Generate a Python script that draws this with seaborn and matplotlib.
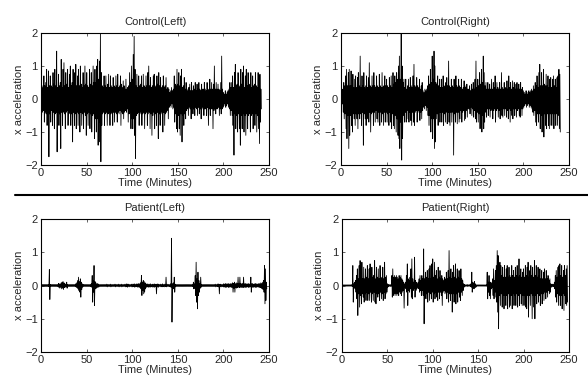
import numpy as np
import matplotlib
matplotlib.use("Agg")
import matplotlib.pyplot as plt
from matplotlib.lines import Line2D
import seaborn as sns

# per-minute peak (hi) and trough (lo) of x acceleration
control_left_hi = [
    1.8, 0.4, 0.35, 0.7, 0.4, 0.5, 0.9, 0.35, 0.85, 0.4,
    0.7, 0.4, 0.35, 0.8, 0.45, 0.9, 0.4, 1.45, 0.35, 0.75,
    0.4, 0.5, 1.2, 0.35, 0.9, 1.1, 0.4, 0.8, 0.45, 0.9,
    0.35, 0.75, 1.0, 0.4, 0.5, 0.9, 0.35, 0.8, 1.05, 0.4,
    0.7, 0.9, 0.4, 1.0, 0.45, 0.35, 0.8, 0.4, 1.0, 0.45,
    0.8, 0.4, 0.35, 0.9, 0.45, 0.8, 0.4, 1.0, 0.5, 0.9,
    0.5, 1.0, 1.2, 0.6, 1.15, 2.0, 0.8, 0.4, 0.35, 0.7,
    0.4, 0.7, 0.35, 0.45, 0.75, 0.35, 0.7, 0.4, 0.35, 0.65,
    0.4, 0.35, 0.7, 0.4, 0.75, 0.35, 0.4, 0.7, 0.45, 0.35,
    0.55, 0.4, 0.3, 0.6, 0.3, 0.35, 0.4, 0.8, 0.5, 1.0,
    0.6, 1.35, 1.9, 0.9, 0.4, 0.75, 0.35, 0.7, 0.4, 0.45,
    0.7, 0.35, 0.75, 0.4, 0.35, 0.7, 0.4, 0.8, 1.0, 0.4,
    0.65, 0.35, 0.4, 0.7, 0.75, 0.35, 0.4, 0.7, 0.45, 0.8,
    0.4, 0.65, 0.35, 0.4, 0.7, 0.35, 0.4, 0.65, 0.3, 0.35,
    0.3, 0.2, 0.25, 0.35, 0.25, 0.3, 0.7, 0.45, 0.4, 0.9,
    0.45, 0.8, 0.4, 0.7, 0.9, 0.35, 0.4, 0.65, 0.3, 0.5,
    0.3, 0.25, 0.35, 0.45, 0.25, 0.5, 0.25, 0.4, 0.3, 0.5,
    0.25, 0.45, 0.3, 0.5, 0.3, 0.25, 0.45, 0.3, 0.3, 0.5,
    0.3, 0.25, 0.5, 0.3, 0.25, 0.6, 0.3, 0.5, 0.3, 0.45,
    1.0, 0.3, 0.5, 0.3, 0.45, 0.3, 0.25, 0.5, 1.3, 0.3,
    0.2, 0.15, 0.25, 0.15, 0.2, 0.25, 0.3, 0.5, 0.35, 0.5,
    0.7, 0.35, 0.8, 1.05, 0.4, 0.45, 0.8, 0.4, 0.35, 0.9,
    0.45, 0.8, 1.0, 0.35, 0.7, 0.9, 0.4, 0.8, 0.4, 0.45,
    0.8, 0.35, 0.7, 0.4, 0.45, 0.8, 0.4, 0.35, 0.8, 0.7,
    0.75, 0.3,
]
control_left_lo = [
    -0.5, -0.4, -0.35, -0.7, -0.4, -0.45, -0.8, -0.4, -1.75, -0.45,
    -0.7, -0.35, -0.8, -0.4, -0.9, -0.45, -0.4, -1.6, -0.4, -0.8,
    -0.45, -1.5, -0.4, -0.8, -0.4, -0.45, -0.9, -0.4, -0.35, -0.8,
    -0.45, -0.4, -0.8, -0.45, -1.3, -0.4, -0.8, -0.45, -0.9, -0.4,
    -0.8, -0.45, -1.0, -0.4, -0.8, -0.45, -0.9, -0.4, -0.5, -1.1,
    -0.45, -0.8, -0.4, -0.9, -0.45, -1.0, -0.5, -0.45, -1.2, -0.6,
    -1.0, -0.6, -1.4, -0.7, -1.3, -1.9, -0.8, -0.45, -0.4, -0.8,
    -0.45, -0.4, -0.8, -0.45, -0.4, -0.8, -0.45, -0.4, -0.8, -0.4,
    -0.7, -0.4, -0.45, -0.7, -0.4, -0.45, -0.35, -0.8, -0.4, -0.45,
    -0.6, -0.4, -0.35, -0.4, -0.3, -0.7, -0.45, -0.4, -0.9, -0.6,
    -0.9, -0.6, -1.1, -1.8, -0.5, -0.45, -0.4, -0.8, -0.45, -0.4,
    -0.8, -0.45, -0.4, -0.9, -0.45, -0.4, -0.8, -0.45, -0.4, -0.9,
    -0.45, -1.1, -0.5, -0.4, -0.9, -0.45, -0.8, -0.4, -1.2, -0.45,
    -0.8, -0.4, -0.45, -1.0, -0.4, -0.8, -0.45, -0.4, -0.35, -0.6,
    -0.25, -0.2, -0.25, -0.15, -0.3, -0.25, -0.7, -0.45, -0.9, -1.0,
    -0.5, -0.9, -1.1, -0.45, -1.3, -0.5, -0.8, -0.45, -0.6, -0.35,
    -0.3, -0.5, -0.25, -0.3, -0.6, -0.25, -0.45, -0.3, -0.5, -0.25,
    -0.3, -0.5, -0.25, -0.45, -0.3, -0.6, -0.25, -0.3, -0.5, -0.3,
    -0.3, -0.5, -0.25, -0.8, -0.3, -0.5, -0.3, -0.3, -0.9, -0.35,
    -0.3, -0.45, -0.3, -0.3, -0.25, -0.5, -0.3, -0.45, -0.3, -0.25,
    -0.2, -0.15, -0.25, -0.2, -0.15, -0.25, -0.3, -0.5, -0.35, -0.5,
    -0.8, -1.7, -0.45, -0.9, -0.5, -1.0, -0.45, -0.9, -1.4, -0.5,
    -0.9, -0.45, -1.0, -0.5, -1.1, -0.45, -0.9, -0.5, -0.45, -1.0,
    -0.5, -0.45, -0.9, -0.4, -0.8, -0.45, -1.0, -0.5, -0.9, -1.35,
    -0.7, -0.3,
]

control_right_hi = [
    0.2, 0.15, 0.3, 0.5, 0.4, 0.7, 0.9, 0.4, 0.8, 0.9,
    0.4, 0.85, 0.4, 0.75, 0.35, 0.6, 0.7, 0.35, 0.65, 0.8,
    0.4, 1.3, 0.35, 0.7, 0.4, 0.8, 0.35, 0.4, 0.7, 0.35,
    0.65, 1.1, 0.4, 0.35, 0.7, 0.4, 0.8, 0.4, 0.35, 0.7,
    0.4, 0.35, 0.75, 0.4, 0.35, 0.8, 0.35, 0.4, 0.7, 0.4,
    0.6, 0.4, 0.35, 0.65, 0.4, 0.7, 0.35, 0.8, 0.45, 0.7,
    0.5, 0.8, 0.6, 1.0, 1.3, 0.6, 2.0, 1.0, 0.5, 0.6,
    0.35, 0.6, 0.3, 0.4, 0.6, 0.35, 0.65, 0.4, 0.35, 0.7,
    1.05, 0.4, 0.35, 0.65, 0.4, 0.35, 0.6, 0.3, 0.4, 0.5,
    0.25, 0.2, 0.3, 0.25, 0.3, 0.4, 0.7, 0.45, 0.9, 0.5,
    1.3, 0.6, 1.45, 1.0, 0.5, 0.45, 0.7, 0.4, 0.6, 0.35,
    0.6, 0.35, 0.7, 0.4, 0.35, 0.5, 0.65, 0.4, 1.15, 0.4,
    0.35, 0.6, 0.4, 0.35, 0.6, 0.35, 0.7, 0.4, 0.35, 0.6,
    0.4, 0.35, 0.6, 0.3, 0.35, 0.55, 0.4, 0.35, 0.45, 0.3,
    0.3, 0.4, 0.25, 0.45, 0.3, 0.5, 0.3, 0.6, 1.15, 0.35,
    0.6, 0.4, 0.8, 0.45, 0.9, 0.5, 1.3, 0.8, 0.4, 0.5,
    0.3, 0.5, 0.3, 0.45, 0.3, 0.6, 0.3, 0.5, 0.35, 0.7,
    0.3, 0.5, 0.35, 0.3, 0.5, 0.3, 0.8, 0.35, 0.3, 0.5,
    0.35, 0.3, 0.55, 0.3, 0.7, 0.35, 0.5, 0.3, 0.55, 0.35,
    0.5, 0.3, 0.45, 0.5, 0.3, 0.45, 0.3, 0.5, 0.3, 0.35,
    0.25, 0.2, 0.15, 0.25, 0.2, 0.15, 0.25, 0.2, 0.25, 0.3,
    0.25, 0.4, 0.3, 0.5, 0.4, 0.7, 0.35, 0.8, 1.05, 0.4,
    0.8, 0.4, 0.9, 0.45, 0.4, 0.75, 0.4, 0.7, 0.35, 0.6,
    0.65, 0.35, 0.6, 0.7, 0.4, 0.6, 0.35, 0.65, 0.7, 0.9,
    0.75,
]
control_right_lo = [
    -0.2, -0.15, -0.4, -0.6, -0.45, -0.9, -1.2, -0.5, -1.5, -1.1,
    -0.5, -0.8, -1.0, -0.45, -0.6, -0.8, -0.45, -0.6, -0.9, -0.45,
    -0.6, -0.45, -0.8, -0.4, -1.4, -0.45, -0.6, -0.8, -0.4, -0.6,
    -0.7, -0.4, -1.0, -0.45, -0.4, -0.8, -0.4, -0.7, -0.35, -0.6,
    -0.7, -0.4, -0.8, -0.4, -0.7, -0.45, -0.8, -0.4, -0.7, -0.4,
    -0.7, -0.45, -0.8, -0.4, -0.7, -0.9, -0.45, -0.8, -0.9, -0.5,
    -1.0, -0.6, -1.1, -1.2, -1.5, -0.7, -1.85, -1.2, -0.5, -0.7,
    -0.4, -0.7, -0.35, -0.6, -0.7, -0.4, -0.65, -0.8, -0.4, -0.7,
    -0.8, -0.4, -0.35, -0.7, -0.4, -0.35, -0.65, -0.4, -0.6, -0.35,
    -0.25, -0.3, -0.2, -0.35, -0.25, -0.5, -0.8, -0.5, -1.0, -0.6,
    -1.2, -0.6, -1.5, -1.3, -0.6, -0.45, -0.8, -0.4, -0.7, -0.4,
    -0.7, -0.4, -0.8, -0.45, -0.7, -0.4, -0.75, -0.4, -0.7, -0.8,
    -0.4, -0.7, -0.4, -1.7, -0.45, -0.7, -0.4, -0.75, -0.4, -0.7,
    -0.6, -0.35, -0.7, -0.4, -0.35, -0.65, -0.6, -0.35, -0.55, -0.3,
    -0.3, -0.45, -0.25, -0.5, -0.3, -0.55, -0.35, -0.6, -0.7, -0.4,
    -0.7, -0.45, -0.9, -0.5, -1.0, -0.5, -0.9, -0.7, -0.4, -0.55,
    -0.3, -0.5, -0.3, -0.55, -0.35, -0.3, -0.6, -0.35, -0.3, -0.7,
    -0.35, -0.3, -0.55, -0.35, -0.6, -0.3, -0.5, -0.55, -0.3, -0.5,
    -0.3, -0.55, -0.35, -0.6, -0.3, -0.7, -0.35, -0.5, -0.6, -0.3,
    -0.5, -0.3, -0.55, -0.35, -0.3, -0.5, -0.55, -0.3, -0.5, -0.3,
    -0.25, -0.2, -0.15, -0.25, -0.2, -0.15, -0.25, -0.2, -0.25, -0.3,
    -0.4, -0.5, -0.35, -0.7, -0.8, -0.45, -0.7, -0.45, -0.9, -0.5,
    -1.0, -0.5, -1.15, -0.45, -0.8, -0.9, -0.45, -0.8, -0.9, -0.45,
    -0.8, -0.45, -0.8, -0.9, -0.45, -0.8, -0.45, -0.8, -0.5, -0.9,
    -1.0,
]

patient_left_hi = [
    0.03, 0.03, 0.03, 0.03, 0.03, 0.03, 0.03, 0.03, 0.03, 0.48,
    0.03, 0.03, 0.03, 0.03, 0.03, 0.03, 0.03, 0.03, 0.03, 0.06,
    0.05, 0.04, 0.08, 0.1, 0.12, 0.08, 0.05, 0.04, 0.1, 0.03,
    0.03, 0.03, 0.03, 0.03, 0.03, 0.03, 0.03, 0.03, 0.05, 0.08,
    0.15, 0.25, 0.12, 0.2, 0.1, 0.05, 0.03, 0.03, 0.03, 0.03,
    0.03, 0.03, 0.03, 0.03, 0.03, 0.05, 0.3, 0.15, 0.6, 0.12,
    0.08, 0.05, 0.06, 0.04, 0.03, 0.03, 0.03, 0.03, 0.03, 0.03,
    0.03, 0.03, 0.04, 0.03, 0.03, 0.03, 0.04, 0.03, 0.03, 0.03,
    0.03, 0.04, 0.03, 0.03, 0.03, 0.04, 0.03, 0.03, 0.04, 0.03,
    0.03, 0.03, 0.04, 0.03, 0.05, 0.03, 0.04, 0.03, 0.03, 0.04,
    0.04, 0.03, 0.05, 0.04, 0.03, 0.05, 0.04, 0.06, 0.05, 0.08,
    0.3, 0.1, 0.15, 0.12, 0.08, 0.05, 0.03, 0.05, 0.03, 0.04,
    0.05, 0.03, 0.04, 0.03, 0.05, 0.03, 0.04, 0.03, 0.05, 0.03,
    0.03, 0.04, 0.03, 0.05, 0.03, 0.04, 0.03, 0.25, 0.03, 0.04,
    0.03, 0.03, 0.05, 1.42, 0.05, 0.08, 0.25, 0.04, 0.03, 0.03,
    0.03, 0.03, 0.03, 0.03, 0.03, 0.03, 0.03, 0.03, 0.03, 0.03,
    0.03, 0.03, 0.03, 0.03, 0.03, 0.03, 0.03, 0.1, 0.05, 0.3,
    0.7, 0.2, 0.4, 0.15, 0.05, 0.25, 0.03, 0.03, 0.03, 0.03,
    0.03, 0.03, 0.03, 0.03, 0.03, 0.03, 0.03, 0.03, 0.03, 0.03,
    0.03, 0.04, 0.03, 0.03, 0.05, 0.04, 0.03, 0.04, 0.03, 0.03,
    0.05, 0.04, 0.06, 0.05, 0.04, 0.06, 0.05, 0.04, 0.06, 0.05,
    0.08, 0.06, 0.1, 0.05, 0.08, 0.06, 0.25, 0.05, 0.25, 0.06,
    0.05, 0.06, 0.25, 0.05, 0.06, 0.05, 0.04, 0.06, 0.05, 0.04,
    0.25, 0.05, 0.06, 0.04, 0.05, 0.06, 0.05, 0.04, 0.05, 0.06,
    0.05, 0.08, 0.06, 0.1, 0.15, 0.6, 0.5, 0.1,
]
patient_left_lo = [
    -0.03, -0.03, -0.03, -0.03, -0.03, -0.03, -0.03, -0.03, -0.03, -0.42,
    -0.03, -0.03, -0.03, -0.03, -0.03, -0.03, -0.03, -0.03, -0.03, -0.06,
    -0.08, -0.05, -0.1, -0.08, -0.12, -0.06, -0.05, -0.04, -0.08, -0.03,
    -0.03, -0.03, -0.03, -0.03, -0.03, -0.03, -0.03, -0.03, -0.05, -0.06,
    -0.1, -0.15, -0.2, -0.35, -0.12, -0.05, -0.03, -0.03, -0.03, -0.03,
    -0.03, -0.03, -0.03, -0.03, -0.03, -0.05, -0.5, -0.2, -0.6, -0.1,
    -0.08, -0.06, -0.05, -0.04, -0.03, -0.03, -0.03, -0.03, -0.03, -0.03,
    -0.03, -0.03, -0.04, -0.03, -0.03, -0.03, -0.04, -0.03, -0.03, -0.03,
    -0.03, -0.04, -0.03, -0.03, -0.03, -0.04, -0.03, -0.03, -0.04, -0.03,
    -0.03, -0.03, -0.04, -0.03, -0.05, -0.03, -0.04, -0.03, -0.03, -0.04,
    -0.04, -0.03, -0.05, -0.04, -0.03, -0.05, -0.04, -0.06, -0.05, -0.1,
    -0.3, -0.15, -0.25, -0.2, -0.1, -0.05, -0.04, -0.05, -0.04, -0.05,
    -0.04, -0.03, -0.05, -0.04, -0.05, -0.03, -0.25, -0.04, -0.05, -0.03,
    -0.03, -0.04, -0.03, -0.04, -0.03, -0.04, -0.03, -0.04, -0.03, -0.03,
    -0.03, -0.04, -0.05, -1.1, -0.08, -0.1, -0.2, -0.04, -0.03, -0.03,
    -0.03, -0.03, -0.03, -0.03, -0.03, -0.03, -0.03, -0.03, -0.03, -0.03,
    -0.03, -0.03, -0.03, -0.03, -0.03, -0.03, -0.03, -0.1, -0.08, -0.3,
    -0.5, -0.7, -0.3, -0.2, -0.08, -0.05, -0.03, -0.03, -0.03, -0.03,
    -0.03, -0.03, -0.03, -0.03, -0.03, -0.03, -0.03, -0.03, -0.03, -0.03,
    -0.03, -0.04, -0.03, -0.03, -0.04, -0.25, -0.03, -0.04, -0.03, -0.03,
    -0.05, -0.04, -0.06, -0.05, -0.04, -0.06, -0.05, -0.04, -0.06, -0.05,
    -0.2, -0.08, -0.2, -0.06, -0.08, -0.06, -0.05, -0.06, -0.05, -0.06,
    -0.05, -0.06, -0.05, -0.05, -0.06, -0.05, -0.04, -0.06, -0.05, -0.04,
    -0.2, -0.05, -0.06, -0.04, -0.05, -0.06, -0.05, -0.04, -0.05, -0.06,
    -0.06, -0.08, -0.1, -0.12, -0.2, -0.55, -0.45, -0.1,
]

patient_right_hi = [
    0.02, 0.02, 0.02, 0.02, 0.02, 0.02, 0.02, 0.02, 0.02, 0.02,
    0.02, 0.03, 0.6, 0.05, 0.1, 0.15, 0.3, 0.5, 0.2, 0.6,
    0.75, 0.25, 0.7, 0.2, 0.55, 0.2, 0.5, 0.25, 0.6, 0.2,
    0.5, 0.65, 0.2, 0.55, 0.25, 0.3, 0.75, 0.2, 0.55, 0.25,
    0.5, 0.2, 0.6, 0.25, 0.2, 0.55, 0.2, 0.7, 0.25, 0.3,
    0.05, 0.03, 0.02, 0.03, 0.02, 0.3, 0.5, 0.25, 0.3, 0.25,
    0.3, 0.25, 0.2, 0.3, 0.25, 0.3, 0.2, 0.15, 0.1, 0.05,
    0.1, 0.3, 0.65, 0.2, 0.15, 0.25, 0.5, 0.8, 0.2, 0.1,
    0.85, 0.15, 0.1, 0.05, 0.1, 0.2, 0.3, 0.15, 0.3, 0.2,
    1.1, 0.2, 0.4, 0.25, 0.45, 0.2, 0.5, 0.6, 0.2, 0.65,
    0.8, 0.25, 0.7, 0.3, 0.45, 0.2, 0.55, 0.25, 0.45, 0.2,
    0.3, 0.2, 0.15, 0.25, 0.2, 0.4, 0.2, 0.45, 1.05, 0.25,
    0.5, 0.2, 0.4, 0.6, 0.25, 0.65, 0.2, 0.5, 0.25, 0.45,
    0.2, 0.5, 0.2, 0.15, 0.05, 0.03, 0.02, 0.02, 0.03, 0.02,
    0.02, 0.03, 0.05, 0.4, 0.1, 0.08, 0.12, 0.05, 0.02, 0.02,
    0.02, 0.02, 0.02, 0.02, 0.02, 0.02, 0.02, 0.02, 0.02, 0.02,
    0.4, 0.1, 0.3, 0.1, 0.1, 0.05, 0.2, 0.5, 0.15, 0.45,
    0.6, 1.05, 0.9, 0.3, 0.7, 0.6, 0.3, 0.55, 0.25, 0.6,
    0.25, 0.5, 0.6, 0.25, 0.55, 0.3, 0.25, 0.6, 0.3, 0.45,
    0.25, 0.55, 0.3, 0.6, 0.25, 0.8, 0.3, 0.5, 0.25, 0.4,
    0.5, 0.25, 0.6, 0.3, 0.55, 0.7, 0.25, 0.45, 0.6, 0.3,
    0.55, 0.25, 0.75, 0.3, 0.6, 0.25, 0.55, 0.3, 0.5, 0.2,
    0.45, 0.2, 0.4, 0.5, 0.2, 0.45, 0.2, 0.3, 0.15, 0.2,
    0.05, 0.03, 0.04, 0.03, 0.1, 0.3, 0.45, 0.25, 0.55, 0.6,
    0.65, 0.3, 0.6, 0.25, 0.45, 0.6, 0.3, 0.5, 0.6,
]
patient_right_lo = [
    -0.02, -0.02, -0.02, -0.02, -0.02, -0.02, -0.02, -0.02, -0.02, -0.02,
    -0.02, -0.03, -0.5, -0.05, -0.1, -0.2, -0.4, -0.9, -0.25, -0.65,
    -0.3, -0.55, -0.25, -0.35, -0.5, -0.25, -0.45, -0.2, -0.45, -0.25,
    -0.45, -0.2, -0.5, -0.25, -0.45, -0.2, -0.5, -0.55, -0.25, -0.35,
    -0.25, -0.45, -0.2, -0.4, -0.25, -0.45, -0.2, -0.4, -0.25, -0.2,
    -0.05, -0.03, -0.02, -0.03, -0.02, -0.35, -0.3, -0.25, -0.3, -0.25,
    -0.3, -0.25, -0.3, -0.2, -0.25, -0.3, -0.2, -0.15, -0.68, -0.05,
    -0.1, -0.2, -0.6, -0.15, -0.2, -0.1, -0.35, -0.4, -0.15, -0.1,
    -0.35, -0.15, -0.1, -0.05, -0.1, -0.2, -0.15, -0.3, -0.15, -0.3,
    -1.15, -0.2, -0.4, -0.25, -0.5, -0.2, -0.45, -0.25, -0.4, -0.2,
    -0.5, -0.25, -0.4, -0.2, -0.35, -0.45, -0.2, -0.4, -0.2, -0.3,
    -0.6, -0.2, -0.15, -0.25, -0.2, -0.4, -0.2, -0.5, -0.25, -0.45,
    -0.25, -0.8, -0.25, -0.5, -0.2, -0.55, -0.25, -0.5, -0.2, -0.35,
    -0.45, -0.2, -0.3, -0.15, -0.05, -0.03, -0.02, -0.02, -0.03, -0.02,
    -0.02, -0.03, -0.05, -0.2, -0.08, -0.1, -0.06, -0.05, -0.02, -0.02,
    -0.02, -0.02, -0.02, -0.02, -0.02, -0.02, -0.02, -0.02, -0.02, -0.02,
    -0.4, -0.2, -0.3, -0.4, -0.1, -0.05, -0.3, -0.4, -0.2, -0.35,
    -0.5, -0.8, -1.3, -0.3, -0.6, -0.25, -0.65, -0.3, -0.7, -0.3,
    -0.6, -0.3, -0.7, -0.25, -0.65, -0.6, -0.3, -0.7, -0.25, -0.6,
    -0.3, -0.6, -0.25, -0.65, -0.3, -0.6, -0.25, -0.55, -0.6, -0.3,
    -0.6, -0.3, -0.65, -0.7, -0.3, -0.95, -0.3, -0.6, -0.25, -1.0,
    -0.3, -0.65, -1.0, -0.3, -0.55, -0.25, -0.5, -0.3, -0.6, -0.25,
    -0.55, -0.25, -0.45, -0.2, -0.4, -0.2, -0.35, -0.15, -0.25, -0.2,
    -0.05, -0.03, -0.04, -0.03, -0.1, -0.35, -0.5, -0.25, -0.6, -0.3,
    -0.6, -0.3, -0.7, -0.25, -0.75, -0.3, -0.55, -0.6, -0.5,
]

titles = ["Control(Left)", "Control(Right)", "Patient(Left)", "Patient(Right)"]
panels = [
    (control_left_hi, control_left_lo),
    (control_right_hi, control_right_lo),
    (patient_left_hi, patient_left_lo),
    (patient_right_hi, patient_right_lo),
]
x_ticks = [0, 50, 100, 150, 200, 250]
y_ticks = [-2, -1, 0, 1, 2]

sns.set_style("ticks")
plt.rcParams["font.family"] = ["Liberation Sans", "DejaVu Sans"]
plt.rcParams["axes.linewidth"] = 0.8

fig = plt.figure(figsize=(5.88, 3.87), dpi=100)
boxes = [
    [0.0700, 0.5736, 0.3876, 0.3411],
    [0.5800, 0.5736, 0.3876, 0.3411],
    [0.0700, 0.0904, 0.3876, 0.3437],
    [0.5815, 0.0904, 0.3861, 0.3437],
]

for box, title, (hi, lo) in zip(boxes, titles, panels):
    ax = fig.add_axes(box)
    t = np.arange(len(hi))
    xs = np.column_stack([t, t + 0.5]).ravel()
    ys = np.column_stack([hi, lo]).ravel()
    sns.lineplot(x=xs, y=ys, ax=ax, color="black", linewidth=0.6,
                 estimator=None, sort=False)
    ax.set_xlim(0, 250)
    ax.set_ylim(-2, 2)
    ax.set_xticks(x_ticks)
    ax.set_yticks(y_ticks)
    ax.set_yticklabels(["\u22122", "\u22121", "0", "1", "2"])
    ax.tick_params(direction="in", top=True, right=True, length=2.5,
                   width=0.5, labelsize=8, pad=2.5)
    for s in ax.spines.values():
        s.set_visible(True)
        s.set_color("black")
    ax.set_title(title, fontsize=8, pad=5.5)
    ax.set_xlabel("Time (Minutes)", fontsize=8, labelpad=0)
    ax.set_ylabel("x acceleration", fontsize=8, labelpad=1)

fig.add_artist(Line2D([0.026, 1.0], [0.496, 0.496], transform=fig.transFigure,
                      color="black", linewidth=1.5))

fig.savefig("out.png", dpi=100)
